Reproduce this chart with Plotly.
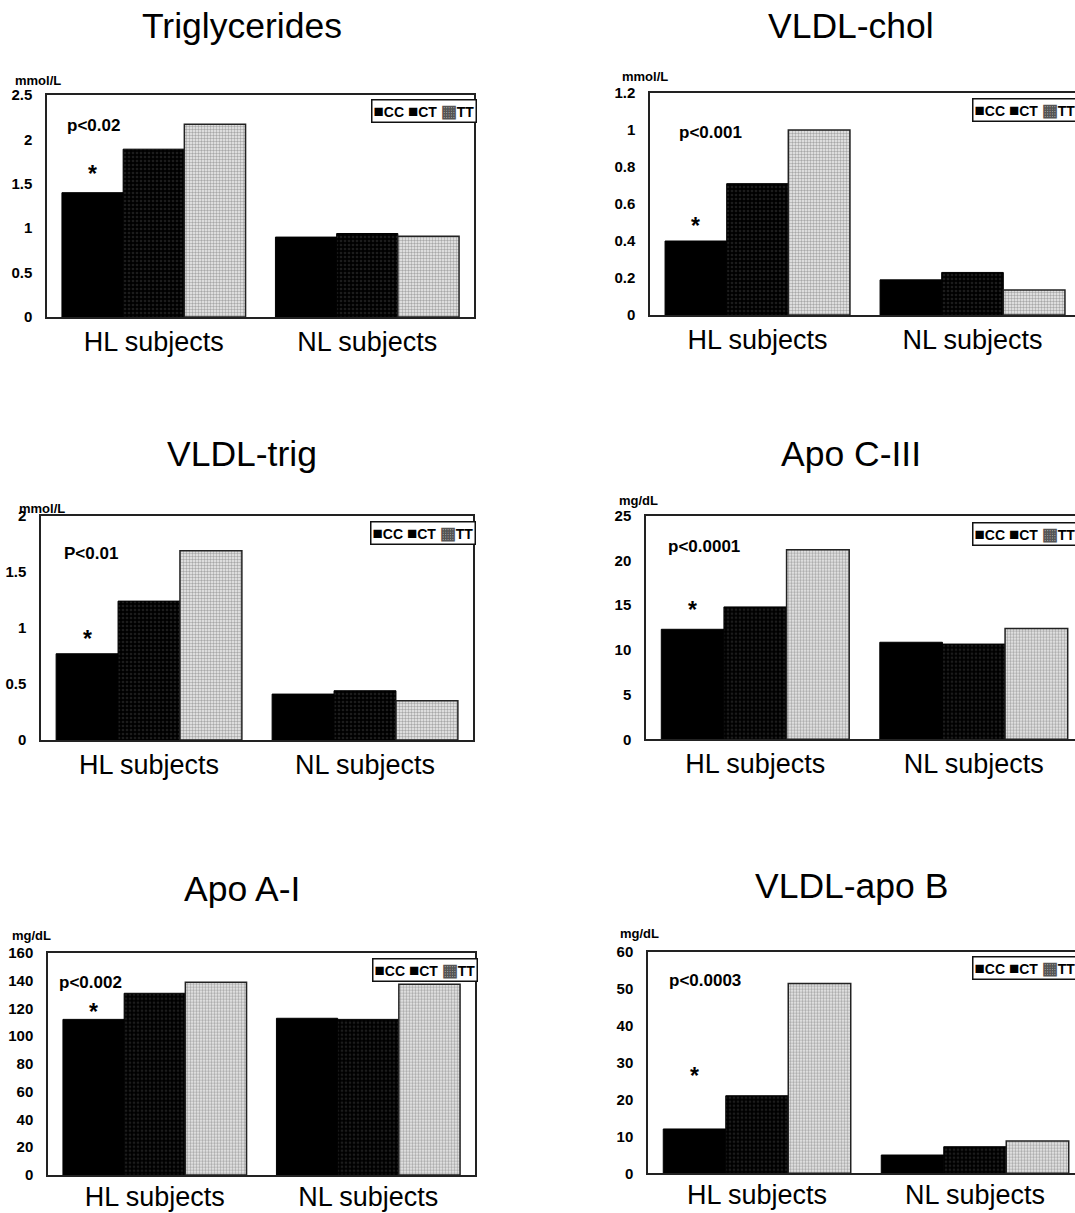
import plotly.graph_objects as go

# ---------------- data ----------------
categories = ["HL subjects", "NL subjects"]
genotypes = ["CC", "CT", "TT"]

trig_cc = [1.40, 0.90]
trig_ct = [1.89, 0.94]
trig_tt = [2.17, 0.91]

vchol_cc = [0.40, 0.19]
vchol_ct = [0.71, 0.23]
vchol_tt = [1.00, 0.135]

vtrig_cc = [0.77, 0.41]
vtrig_ct = [1.24, 0.44]
vtrig_tt = [1.69, 0.35]

apoc_cc = [12.3, 10.85]
apoc_ct = [14.8, 10.65]
apoc_tt = [21.2, 12.4]

apoa_cc = [112, 112.8]
apoa_ct = [130.8, 112]
apoa_tt = [138.7, 137.3]

apob_cc = [12.0, 4.95]
apob_ct = [21.0, 7.2]
apob_tt = [51.4, 8.75]

titles = ["Triglycerides", "VLDL-chol", "VLDL-trig", "Apo C-III", "Apo A-I", "VLDL-apo B"]
units = ["mmol/L", "mmol/L", "mmol/L", "mg/dL", "mg/dL", "mg/dL"]
pvalues = ["p<0.02", "p<0.001", "P<0.01", "p<0.0001", "p<0.002", "p<0.0003"]
series = [
    (trig_cc, trig_ct, trig_tt),
    (vchol_cc, vchol_ct, vchol_tt),
    (vtrig_cc, vtrig_ct, vtrig_tt),
    (apoc_cc, apoc_ct, apoc_tt),
    (apoa_cc, apoa_ct, apoa_tt),
    (apob_cc, apob_ct, apob_tt),
]
y_max = [2.5, 1.2, 2, 25, 160, 60]
y_dtick = [0.5, 0.2, 0.5, 5, 20, 10]
star_y = [1.66, 0.50, 0.94, 14.9, 120, 27.3]

# ---------------- layout geometry (page pixels) ----------------
W, H = 1075, 1213
# x0, full plot width, top, bottom
geom = [
    (47, 427, 95, 317),
    (650, 430, 93, 315),
    (41, 432, 516, 740),
    (646, 437, 515.7, 739.3),
    (48, 427, 952.7, 1175),
    (648, 436, 951.7, 1173.3),
]
xlabel_standoff = [0, 0, 0, 0, -3, -3]
title_pos = [(242, 26), (851, 26), (242, 454), (851, 454), (242, 889), (851, 886)]
unit_pos = [(13, 80), (620, 77), (17, 508), (617, 500), (10, 935), (618, 933)]
p_pos = [(65, 126), (677, 133), (62, 553), (666, 546), (57, 982), (667, 980)]
legend_top = [99, 98, 521, 522, 958, 956]

BARGAP = 0.14
FONT = "Liberation Sans, Arial, sans-serif"

def px(x):
    return x / W

def py(y):
    return 1 - y / H

styles = [
    dict(color="#000000", line=dict(color="#000000", width=1)),
    dict(color="#000000", line=dict(color="#000000", width=1),
         pattern=dict(shape=".", fgcolor="#383838", bgcolor="#000000", size=4, solidity=0.35)),
    dict(color="#ffffff", line=dict(color="#222222", width=1.5),
         pattern=dict(shape=".", fgcolor="#626262", bgcolor="#eeeeee", size=3, solidity=0.5)),
]

SW = "<span style='font-size:17px'>{}</span>"
legend_html = (SW.format("■") + "CC " + SW.format("■") + "CT "
               + "<span style='font-size:17px;color:#555'>▦</span>TT")

fig = go.Figure()
annotations = []
layout = dict(
    width=W, height=H,
    margin=dict(l=0, r=0, t=0, b=0, autoexpand=False),
    paper_bgcolor="white", plot_bgcolor="white",
    barmode="group", bargap=BARGAP, bargroupgap=0,
    showlegend=False,
    font=dict(family=FONT, color="black"),
)

for i in range(6):
    n = i + 1
    xs = "" if n == 1 else str(n)
    x0, fw, top, bot = geom[i]
    x1 = min(x0 + fw, W)
    vis = (x1 - x0) / fw
    for g, vals, st in zip(genotypes, series[i], styles):
        fig.add_trace(go.Bar(
            x=categories, y=vals, name=g, marker=st,
            xaxis=f"x{xs}", yaxis=f"y{xs}",
            hoverinfo="skip",
        ))
    layout[f"xaxis{xs}"] = dict(
        domain=[px(x0), px(x1)], anchor=f"y{xs}",
        range=[-0.5, -0.5 + 2 * vis], type="category",
        showline=True, linecolor="#222", linewidth=1.5, mirror=True,
        showgrid=False, ticks="", zeroline=False, automargin=False,
        tickfont=dict(family=FONT, size=27, color="black"),
        ticklabelstandoff=xlabel_standoff[i],
    )
    layout[f"yaxis{xs}"] = dict(
        domain=[py(bot), py(top)], anchor=f"x{xs}",
        range=[0, y_max[i]], dtick=y_dtick[i], tick0=0,
        showline=True, linecolor="#222", linewidth=1.5, mirror=True,
        showgrid=False, zeroline=False, ticks="", automargin=False,
        tickfont=dict(family=FONT, size=15, color="black", weight="bold"),
        ticklabelstandoff=10,
    )
    # legend box
    annotations.append(dict(
        text=legend_html, x=px(min(x0 + fw + 3, W + 3)), y=py(legend_top[i]),
        xref="paper", yref="paper", xanchor="right", yanchor="top",
        showarrow=False, bgcolor="white", bordercolor="#111", borderwidth=1.5, borderpad=1,
        font=dict(family=FONT, size=14, color="black", weight="bold"),
    ))
    # title
    annotations.append(dict(
        text=titles[i], x=px(title_pos[i][0]), y=py(title_pos[i][1]),
        xref="paper", yref="paper", xanchor="center", yanchor="middle",
        showarrow=False, font=dict(family=FONT, size=35.5, color="black"),
    ))
    # unit
    annotations.append(dict(
        text=units[i], x=px(unit_pos[i][0]), y=py(unit_pos[i][1]),
        xref="paper", yref="paper", xanchor="left", yanchor="middle",
        showarrow=False, font=dict(family=FONT, size=13, color="black", weight="bold"),
    ))
    # p-value
    annotations.append(dict(
        text=pvalues[i], x=px(p_pos[i][0]), y=py(p_pos[i][1]),
        xref="paper", yref="paper", xanchor="left", yanchor="middle",
        showarrow=False, font=dict(family=FONT, size=17, color="black", weight="bold"),
    ))
    # star over the HL CC bar
    bw = (1 - BARGAP) / 3
    annotations.append(dict(
        text="*", x=0 - bw, y=star_y[i], xref=f"x{xs}", yref=f"y{xs}",
        xanchor="center", yanchor="middle", yshift=-4,
        showarrow=False, font=dict(family=FONT, size=23, color="black", weight="bold"),
    ))

layout["annotations"] = annotations
fig.update_layout(**layout)
fig.write_html("out.html", config={"displayModeBar": False},
               post_script="document.body.style.margin='0';")
